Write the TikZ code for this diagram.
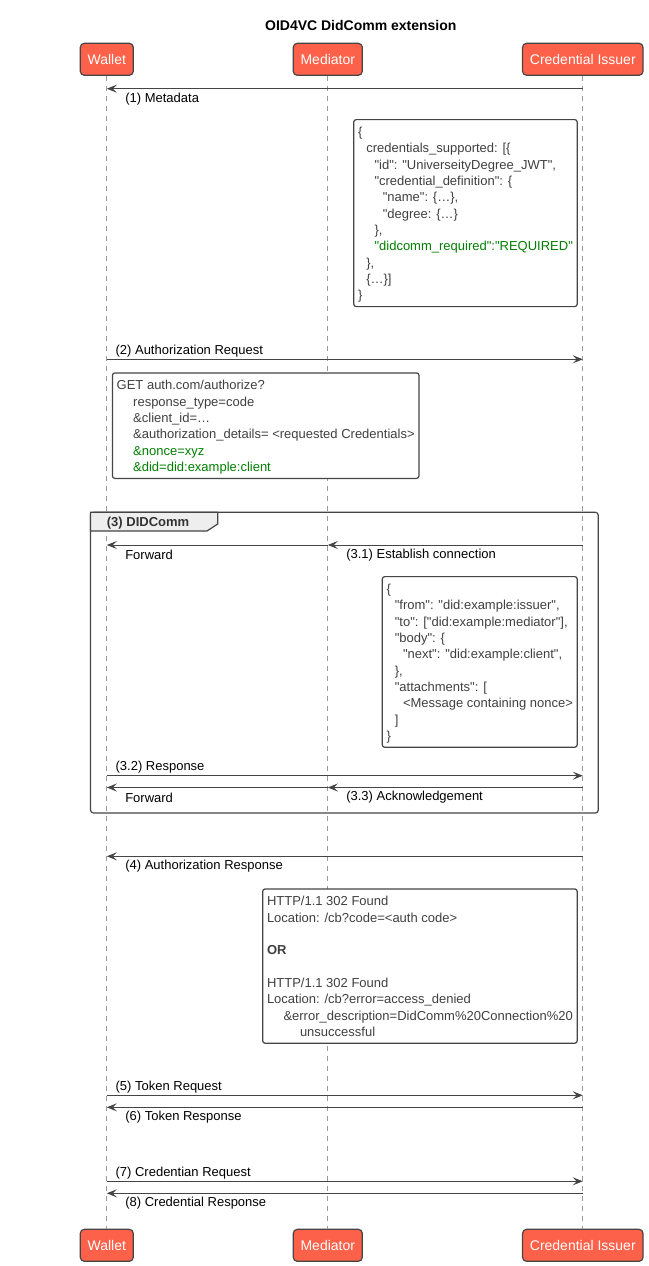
\documentclass[tikz,border=0pt]{standalone}
\usepackage{fontspec}
\setmainfont{Liberation Sans}
\newfontfamily\notefont{Liberation Sans}
\usetikzlibrary{arrows.meta}
\definecolor{actorfill}{HTML}{FE6149}
\definecolor{edge}{HTML}{454545}
\definecolor{lifeline}{HTML}{9A9A9A}
\definecolor{notetext}{HTML}{404040}
\definecolor{okgreen}{HTML}{008000}
\definecolor{tabfill}{HTML}{EEEEEE}
\newcommand{\lvl}[1]{\hspace*{#1\dimexpr 8.25pt\relax}}
\newcommand{\notetop}{\rule{0pt}{17pt}}
\newcommand{\notebot}{\rule[-7pt]{0pt}{0pt}}
\begin{document}
\begin{tikzpicture}[x=1pt,y=-1pt,
		actor/.style={draw=edge,fill=actorfill,line width=1.2pt,rounded corners=4pt,text=white,
			font=\fontsize{14}{16}\selectfont,minimum height=32pt,inner xsep=7.3pt},
		life/.style={draw=lifeline,line width=0.8pt,dash pattern=on 5pt off 5pt},
		msg/.style={draw=edge,line width=1pt,-{Stealth[length=10pt,width=8pt,inset=4pt]}},
		lbla/.style={anchor=west,inner sep=0pt,xshift=8.3pt,yshift=8.6pt,font=\fontsize{13}{15}\selectfont},
		lblb/.style={anchor=west,inner sep=0pt,xshift=18pt,yshift=-10pt,font=\fontsize{13}{15}\selectfont},
		note/.style={draw=edge,fill=white,line width=1.2pt,rounded corners=2.5pt,align=left,
			inner xsep=4.3pt,inner ysep=0pt,text=notetext,font=\notefont\fontsize{13}{16.3}\selectfont}]
	\useasboundingbox (0,0) rectangle (648,1266);
	\node[font=\bfseries\fontsize{14}{16}\selectfont] (title) at (360.8,25) {OID4VC DidComm extension};
	% participants, top and bottom
	\node[actor] (wallet) at (106.8,59.3) {Wallet};
	\node[actor] (mediator) at (327.8,59.3) {Mediator};
	\node[actor] (issuer) at (582.8,59.3) {Credential Issuer};
	\node[actor] (wallet2) at (106.8,1245.3) {Wallet};
	\node[actor] (mediator2) at (327.8,1245.3) {Mediator};
	\node[actor] (issuer2) at (582.8,1245.3) {Credential Issuer};
	\draw[life] (wallet) -- (wallet2);
	\draw[life] (mediator) -- (mediator2);
	\draw[life] (issuer) -- (issuer2);
	% message rows
	\foreach \k/\y in {1/88.7,2/359.3,31/545,32/775.7,33/787.5,4/856.3,5/1095.3,6/1107.3,7/1181.3,8/1193.3}{
		\coordinate (w\k) at (wallet |- 0,\y);
		\coordinate (m\k) at (mediator |- 0,\y);
		\coordinate (i\k) at (issuer |- 0,\y);
	}
	\draw[msg] (i1) -- (w1) node[lblb] (t1) {(1) Metadata};
	\node[note,anchor=north east,xshift=-5pt] (meta) at (issuer |- 0,119) {\notetop\{\\
		\lvl{1}credentials\_supported: [\{\\
		\lvl{2}"id": "UniverseityDegree\_JWT",\\
		\lvl{2}"credential\_definition": \{\\
		\lvl{3}"name": \{\ldots\},\\
		\lvl{3}"degree: \{\ldots\}\\
		\lvl{2}\},\\
		\lvl{2}\textcolor{okgreen}{"didcomm\_required":"REQUIRED"}\\
		\lvl{1}\},\\
		\lvl{1}\{\ldots\}]\\
		\}\notebot};
	\draw[msg] (w2) -- (i2) node[lbla,pos=0] (t2) {(2) Authorization Request};
	\node[note,anchor=north west,xshift=5pt] (authreq) at (wallet |- 0,372.3) {\notetop GET auth.com/authorize?\\
		\lvl{2}response\_type=code\\
		\lvl{2}\&client\_id=\ldots\\
		\lvl{2}\&authorization\_details= <requested Credentials>\\
		\lvl{2}\textcolor{okgreen}{\&nonce=xyz}\\
		\lvl{2}\textcolor{okgreen}{\&did=did:example:client}\notebot};
	% (3) DIDComm group
	\draw[draw=edge,line width=1.2pt,rounded corners=3pt] (90.5,512.3) rectangle (598.3,813);
	\filldraw[draw=edge,fill=tabfill,line width=1.2pt] (90.5,512.3) -- (217.7,512.3) -- (217.7,524) -- (207,531) -- (90.5,531) -- cycle;
	\node[anchor=west,inner sep=0pt,text=black!80,font=\bfseries\fontsize{13}{15}\selectfont] (grp) at (106.7,522.8) {(3) DIDComm};
	\draw[msg] (i31) -- (m31) node[lblb] (t31) {(3.1) Establish connection};
	\draw[msg] (m31) -- (w31) node[lblb] (f31) {Forward};
	\node[note,anchor=north east,xshift=-5pt] (conn) at (issuer |- 0,576) {\notetop\{\\
		\lvl{1}"from": "did:example:issuer",\\
		\lvl{1}"to": ["did:example:mediator"],\\
		\lvl{1}"body": \{\\
		\lvl{2}"next": "did:example:client",\\
		\lvl{1}\},\\
		\lvl{1}"attachments": [\\
		\lvl{2}<Message containing nonce>\\
		\lvl{1}]\\
		\}\notebot};
	\draw[msg] (w32) -- (i32) node[lbla,pos=0] (t32) {(3.2) Response};
	\draw[msg] (i33) -- (m33) node[lblb] (t33) {(3.3) Acknowledgement};
	\draw[msg] (m33) -- (w33) node[lblb] (f33) {Forward};
	% authorization response and tokens
	\draw[msg] (i4) -- (w4) node[lblb] (t4) {(4) Authorization Response};
	\node[note,anchor=north east,xshift=-5pt] (authres) at (issuer |- 0,888.3) {\notetop HTTP/1.1 302 Found\\
		Location: /cb?code=<auth code>\\
		\mbox{}\\
		\textbf{OR}\\
		\mbox{}\\
		HTTP/1.1 302 Found\\
		Location: /cb?error=access\_denied\\
		\lvl{2}\&error\_description=DidComm\%20Connection\%20\\
		\lvl{4}unsuccessful\notebot};
	\draw[msg] (w5) -- (i5) node[lbla,pos=0] (t5) {(5) Token Request};
	\draw[msg] (i6) -- (w6) node[lblb] (t6) {(6) Token Response};
	\draw[msg] (w7) -- (i7) node[lbla,pos=0] (t7) {(7) Credentian Request};
	\draw[msg] (i8) -- (w8) node[lblb] (t8) {(8) Credential Response};
\end{tikzpicture}
\end{document}
